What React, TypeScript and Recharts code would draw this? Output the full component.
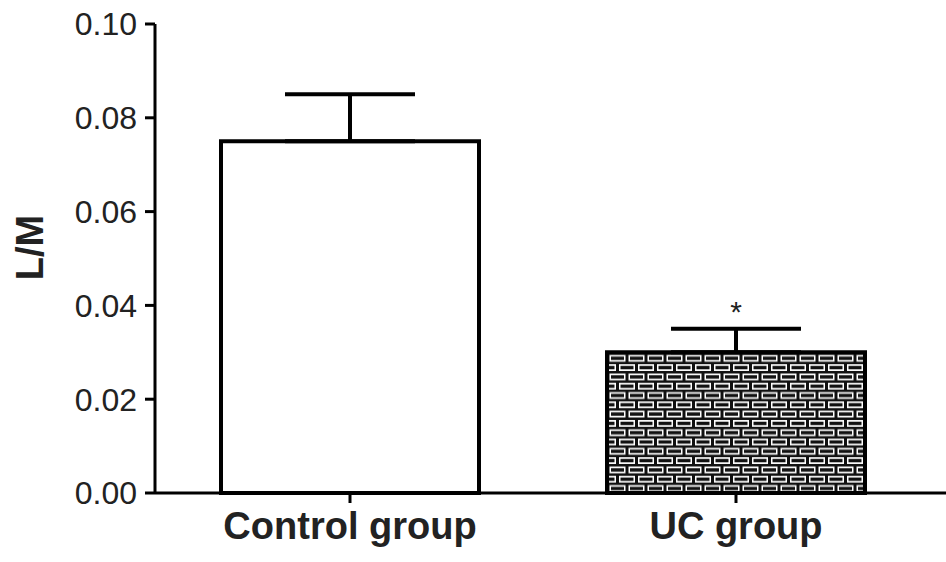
import { BarChart, Bar, XAxis, YAxis, ErrorBar, Cell, LabelList } from "recharts";

const groups = ["Control group", "UC group"];
const means = [0.075, 0.03];
const sem = [0.01, 0.005];
const marks = ["", "*"];
const yTicks = [0, 0.02, 0.04, 0.06, 0.08, 0.1];

const data = groups.map((g, i) => ({
  group: g,
  value: means[i],
  err: [0, sem[i]] as [number, number],
  mark: marks[i],
}));

const BAR_FILLS = ["#ffffff", "url(#brick)"];
const FONT = "'Liberation Sans', Arial, sans-serif";

function BrickDefs(): JSX.Element {
  return (
    <svg width={0} height={0} style={{ position: "absolute" }}>
      <defs>
        <pattern id="brick" width={19} height={18.6} patternUnits="userSpaceOnUse">
          <rect x={0} y={0} width={19} height={18.6} fill="#111" />
          <rect x={1.5} y={1.5} width={16} height={6.8} fill="#ffffff" />
          <rect x={3} y={3.2} width={13} height={3.4} fill="#111" />
          <rect x={11} y={10.8} width={8} height={6.8} fill="#ffffff" />
          <rect x={0} y={10.8} width={8} height={6.8} fill="#ffffff" />
          <rect x={12.5} y={12.5} width={6.5} height={3.4} fill="#111" />
          <rect x={0} y={12.5} width={6.5} height={3.4} fill="#111" />
        </pattern>
      </defs>
    </svg>
  );
}

function YLabel(props: any): JSX.Element {
  const vb = props.viewBox || { y: 24, height: 469 };
  const cx = 43;
  const cy = vb.y + vb.height / 2 - 11;
  return (
    <text
      x={cx}
      y={cy}
      transform={`rotate(-90, ${cx}, ${cy})`}
      textAnchor="middle"
      fill="#222"
      fontSize={38}
      fontWeight="bold"
      fontFamily={FONT}
    >
      L/M
    </text>
  );
}

export default function App(): JSX.Element {
  return (
    <div style={{ position: "absolute", left: 0, top: 0, background: "#fff" }}>
      <BrickDefs />
      <BarChart
        width={946}
        height={562}
        data={data}
        margin={{ top: 24, right: 0, bottom: 0, left: 0 }}
        barCategoryGap={64}
      >
        <XAxis
          dataKey="group"
          height={69}
          padding={{ left: 2, right: 17 }}
          stroke="#000"
          strokeWidth={3}
          tickSize={10}
          tickMargin={9}
          tick={{ fill: "#222", fontSize: 38, fontWeight: "bold", fontFamily: FONT }}
        />
        <YAxis
          width={155}
          domain={[0, 0.1]}
          ticks={yTicks}
          interval={0}
          stroke="#000"
          strokeWidth={3}
          tickSize={10}
          tickMargin={8}
          tickFormatter={(v: number) => v.toFixed(2)}
          tick={{ fill: "#222", fontSize: 32, fontFamily: FONT }}
          label={<YLabel />}
        />
        <Bar dataKey="value" stroke="#000" strokeWidth={4} isAnimationActive={false}>
          {data.map((d, i) => (
            <Cell key={d.group} fill={BAR_FILLS[i]} />
          ))}
          <ErrorBar dataKey="err" width={65} stroke="#000" strokeWidth={4} direction="y" />
          <LabelList
            dataKey="mark"
            position="top"
            offset={30}
            style={{ fill: "#222", fontSize: 30, fontFamily: FONT }}
          />
        </Bar>
      </BarChart>
    </div>
  );
}
